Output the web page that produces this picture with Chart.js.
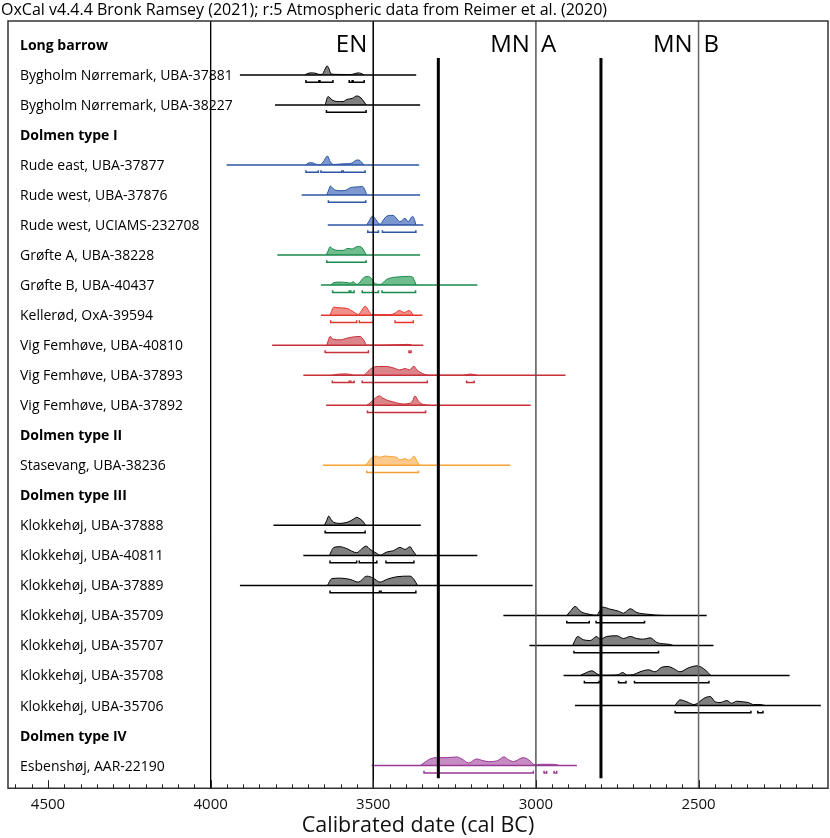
<!DOCTYPE html>
<html>
<head>
<meta charset="utf-8">
<script src="https://cdn.jsdelivr.net/npm/chart.js@4.4.0/dist/chart.umd.min.js"></script>
<style>
    html, body { margin: 0; padding: 0; background: #fff; }
    #wrap { width: 830px; height: 838px; }
</style>
</head>
<body>
<div id="wrap"><canvas id="chart"></canvas></div>
<script>
// rows, top to bottom
const rowLabels = [
    'Long barrow',
    'Bygholm Nørremark, UBA-37881',
    'Bygholm Nørremark, UBA-38227',
    'Dolmen type I',
    'Rude east, UBA-37877',
    'Rude west, UBA-37876',
    'Rude west, UCIAMS-232708',
    'Grøfte A, UBA-38228',
    'Grøfte B, UBA-40437',
    'Kellerød, OxA-39594',
    'Vig Femhøve, UBA-40810',
    'Vig Femhøve, UBA-37893',
    'Vig Femhøve, UBA-37892',
    'Dolmen type II',
    'Stasevang, UBA-38236',
    'Dolmen type III',
    'Klokkehøj, UBA-37888',
    'Klokkehøj, UBA-40811',
    'Klokkehøj, UBA-37889',
    'Klokkehøj, UBA-35709',
    'Klokkehøj, UBA-35707',
    'Klokkehøj, UBA-35708',
    'Klokkehøj, UBA-35706',
    'Dolmen type IV',
    'Esbenshøj, AAR-22190'
];
const headerRows = [0, 3, 13, 15, 23];

// probability curves: [cal BC, relative density 0..10]
const d37881 = [[3710,0],[3701,1.5],[3688,2],[3676,1.5],[3667,0.5],[3657,0.5],[3648,6],[3642,9],[3636,6],[3630,1],[3614,0.5],[3571,0.3],[3559,1],[3547,2],[3538,1.5],[3528,0]];
const d38227 = [[3648,0],[3639,8.3],[3627,5],[3614,3.5],[3593,3.3],[3581,5.5],[3565,6.5],[3550,9],[3538,7],[3528,3],[3522,0]];
const d37877 = [[3707,0],[3700,2],[3688,2.3],[3679,1],[3664,0.3],[3654,3],[3641,9],[3632,3],[3621,0.5],[3600,1],[3587,1.2],[3565,2],[3555,4.5],[3548,5],[3541,4.5],[3534,2],[3528,0]];
const d37876 = [[3643,0],[3636,6],[3632,9],[3625,7],[3614,4.7],[3596,4.3],[3583,5],[3571,7.3],[3556,8],[3541,8.3],[3533,8.5],[3527,6],[3520,0]];
const d232708 = [[3520,0],[3513,4],[3502,9],[3491,5],[3479,0.7],[3467,6],[3454,9.5],[3439,9.7],[3427,6],[3418,3.3],[3402,6.7],[3393,3.3],[3379,8.7],[3372,4],[3369,0]];
const d38228 = [[3645,0],[3639,4],[3633,8.3],[3624,6],[3608,4.7],[3593,4.7],[3578,6.7],[3565,6],[3556,7.5],[3546,8.7],[3535,7.5],[3528,4],[3522,0]];
const d40437 = [[3631,0],[3621,2.5],[3602,3],[3581,2.5],[3571,2],[3562,3.3],[3551,0.7],[3541,3],[3530,7.3],[3515,8.7],[3504,6],[3494,1.3],[3479,0.7],[3459,5.7],[3438,7.7],[3418,8.3],[3392,8.7],[3379,8],[3373,4],[3368,0]];
const d39594 = [[3633,0],[3621,8],[3602,7.3],[3580,6.7],[3561,3.3],[3546,0.7],[3535,5],[3525,9],[3512,3.3],[3505,0.7],[3448,0.5],[3433,2],[3420,4.7],[3405,2.7],[3389,4.7],[3377,0]];
const d40810 = [[3643,0],[3639,4],[3633,8.7],[3624,6],[3602,5.3],[3581,7],[3561,8.3],[3541,8.7],[3535,7.5],[3528,4.3],[3520,0],[3418,0.5],[3393,0.8],[3381,0]];
const d37893 = [[3628,0],[3608,1],[3587,1.3],[3571,0.8],[3559,0],[3530,0],[3516,4],[3500,8],[3484,8.7],[3459,8.7],[3438,7.3],[3418,5.3],[3402,6.7],[3389,5.3],[3375,9],[3366,5.3],[3356,3],[3341,0.7],[3325,0],[3224,0],[3202,1.2],[3181,0]];
const d37892 = [[3520,0],[3507,3],[3498,6],[3481,9.3],[3470,7],[3459,5.3],[3439,3.3],[3407,1.3],[3387,2],[3378,5],[3372,9.3],[3361,4],[3346,0.7],[3325,0]];
const d38236 = [[3525,0],[3516,3],[3510,6],[3491,9.3],[3482,8],[3464,9.3],[3448,8.7],[3428,8],[3418,5.3],[3402,6.7],[3393,5.3],[3384,6],[3375,9.3],[3367,5],[3358,0]];
const d37888 = [[3650,0],[3643,5],[3637,9.3],[3630,6],[3623,3.3],[3602,2],[3578,3.3],[3562,6],[3551,8],[3541,6.5],[3530,3.3],[3524,0]];
const d40811 = [[3635,0],[3621,8],[3602,8.7],[3581,6.7],[3551,2.7],[3535,6.7],[3522,9.3],[3510,6],[3489,2],[3479,0.3],[3459,3.3],[3438,4.7],[3418,8],[3402,6],[3387,8.7],[3379,5],[3368,0]];
const d37889 = [[3641,0],[3628,6.7],[3602,7.3],[3571,6],[3546,3.3],[3520,9.3],[3500,7.3],[3479,3.3],[3459,6],[3428,8.7],[3387,9.3],[3375,6],[3364,0]];
const d35709 = [[2905,0],[2892,5],[2880,9],[2861,3.7],[2833,1],[2813,0.3],[2803,5],[2794,8.3],[2772,6.3],[2746,4.3],[2731,2.3],[2710,6.7],[2690,3],[2659,1.3],[2628,0.3],[2603,0]];
const d35707 = [[2887,0],[2880,5],[2872,9],[2854,5.7],[2833,5],[2813,9],[2803,6.3],[2782,9],[2751,9.7],[2731,7],[2710,9],[2690,7],[2669,6.3],[2649,7.7],[2628,3],[2608,1.7],[2587,1],[2578,0]];
const d35708 = [[2864,0],[2849,2.3],[2828,4.7],[2815,2.3],[2803,0.3],[2757,0.5],[2746,1],[2733,3],[2720,0.5],[2700,1],[2680,3.7],[2654,5.7],[2634,3.7],[2613,8.3],[2593,9],[2577,7],[2557,3.7],[2531,7.7],[2505,9.7],[2485,7],[2469,2.3],[2462,0]];
const d35706 = [[2572,0],[2566,3],[2557,5.7],[2536,3.7],[2514,1],[2500,3],[2485,7],[2464,9],[2449,3.7],[2434,3],[2413,5],[2398,2.3],[2383,4.3],[2362,3.7],[2347,3],[2331,1],[2311,1],[2295,0]];
const d22190 = [[3356,0],[3341,3.5],[3325,6.7],[3305,8],[3274,8],[3243,8.7],[3228,6.7],[3207,2.7],[3182,6.7],[3166,5.3],[3146,4],[3120,4.7],[3098,8.7],[3085,6],[3069,4],[3039,8],[3023,6],[3002,0.7],[2987,1.3],[2946,1.3],[2926,0]];

// 95.4% ranges (cal BC)
const b37881 = [[3707,3667],[3664,3624],[3574,3565],[3562,3528]];
const b38227 = [[3644,3522]];
const b37877 = [[3707,3669],[3661,3597],[3592,3525]];
const b37876 = [[3638,3523]];
const b232708 = [[3517,3484],[3472,3369]];
const b38228 = [[3643,3522]];
const b40437 = [[3625,3574],[3569,3559],[3534,3484],[3473,3370]];
const b39594 = [[3631,3551],[3543,3500],[3433,3377]];
const b40810 = [[3648,3515],[3390,3384]];
const b37893 = [[3626,3574],[3569,3559],[3534,3334],[3213,3190]];
const b37892 = [[3518,3339]];
const b38236 = [[3520,3361]];
const b37888 = [[3648,3525]];
const b40811 = [[3633,3551],[3543,3489],[3461,3375]];
const b37889 = [[3633,3481],[3476,3369]];
const b35709 = [[2905,2836],[2815,2666]];
const b35707 = [[2883,2623]];
const b35708 = [[2851,2806],[2746,2723],[2697,2468]];
const b35706 = [[2572,2339],[2318,2302]];
const b22190 = [[3344,3008],[2975,2967],[2944,2936]];

const densities = [null, d37881, d38227, null, d37877, d37876, d232708, d38228, d40437, d39594, d40810, d37893, d37892, null, d38236, null, d37888, d40811, d37889, d35709, d35707, d35708, d35706, null, d22190];
const brackets = [null, b37881, b38227, null, b37877, b37876, b232708, b38228, b40437, b39594, b40810, b37893, b37892, null, b38236, null, b37888, b40811, b37889, b35709, b35707, b35708, b35706, null, b22190];
// full extent of each plotted line (cal BC)
const rangeFrom = [null, 3910, 3802, null, 3951, 3720, 3640, 3795, 3661, 3661, 3811, 3715, 3645, null, 3655, null, 3807, 3715, 3910, 3100, 3020, 2915, 2880, null, 3505];
const rangeTo   = [null, 3368, 3356, null, 3359, 3356, 3346, 3356, 3180, 3349, 3346, 2909, 3016, null, 3079, null, 3354, 3180, 3010, 2475, 2454, 2220, 2124, null, 2874];

const groups = [null, 'k', 'k', null, 'blue', 'blue', 'blue', 'green', 'green', 'red', 'wine', 'wine', 'wine', null, 'orange', null, 'k', 'k', 'k', 'k', 'k', 'k', 'k', null, 'purple'];
const lineColor = {k: '#000000', blue: '#2d55a5', green: '#198a4c', red: '#e6372e', wine: '#c73038', orange: '#f6a232', purple: '#993a95'};
const fillColor = {k: '#808080', blue: '#7d98cf', green: '#6fbd8c', red: '#f19089', wine: '#db8489', orange: '#fbca8c', purple: '#c68bc3'};

const gridYears = [4000, 3500, 3000, 2500];
const gridColors = ['#000', '#000', '#555', '#666'];
const boundaryYears = [3300, 2800];
const periodText = ['EN', 'MN', 'A', 'MN', 'B'];
const periodYear = [3500, 3000, 3000, 2500, 2500];
const periodSide = ['right', 'right', 'left', 'right', 'left'];
const tickYears = [4500, 4000, 3500, 3000, 2500];

const title = 'OxCal v4.4.4 Bronk Ramsey (2021); r:5 Atmospheric data from Reimer et al. (2020)';
const FONT = '"Open Sans", "Noto Sans", sans-serif';
const DENS = 1 / 30.1;      // density unit -> row units
const BR_OFF = 0.243;       // bracket offset below baseline
const BR_TICK = 0.07;
const Y_MIN = -0.794, Y_MAX = 24.754;

const datasets = [];

gridYears.forEach((v, i) => {
    datasets.push({data: [{x: v, y: Y_MIN}, {x: v, y: Y_MAX}], borderColor: gridColors[i], borderWidth: i < 2 ? 1 : 1.5, order: 0});
});
boundaryYears.forEach(v => {
    datasets.push({data: [{x: v, y: 0.435}, {x: v, y: 24.42}], borderColor: '#000', borderWidth: 3, order: 0});
});

densities.forEach((pts, row) => {
    if (!pts) return;
    const g = groups[row];
    datasets.push({
        data: pts.map(p => ({x: p[0], y: row - p[1] * DENS})),
        borderColor: lineColor[g],
        backgroundColor: fillColor[g],
        borderWidth: 1,
        fill: {value: row},
        cubicInterpolationMode: 'monotone',
        order: 2
    });
    datasets.push({
        data: [{x: rangeFrom[row], y: row}, {x: rangeTo[row], y: row}],
        borderColor: lineColor[g],
        borderWidth: 1.5,
        order: 1
    });
    const bpts = [];
    brackets[row].forEach(b => {
        const yb = row + BR_OFF;
        bpts.push({x: b[0], y: yb - BR_TICK}, {x: b[0], y: yb}, {x: b[1], y: yb}, {x: b[1], y: yb - BR_TICK}, {x: b[1], y: null});
    });
    datasets.push({data: bpts, borderColor: lineColor[g], borderWidth: 1.5, spanGaps: false, order: 1});
});

const overlay = {
    id: 'overlay',
    afterDraw(chart) {
        const {ctx, chartArea: a, scales: {x, y}} = chart;
        ctx.save();
        ctx.strokeStyle = '#333';
        ctx.lineWidth = 1.5;
        ctx.strokeRect(a.left, a.top, a.right - a.left, a.bottom - a.top);

        ctx.lineWidth = 1;
        ctx.strokeStyle = '#222';
        for (let v = 4600; v >= 2150; v -= 50) {
            const px = Math.round(x.getPixelForValue(v)) + 0.5;
            const len = v % 500 === 0 ? 8 : 4;
            ctx.beginPath();
            ctx.moveTo(px, a.bottom);
            ctx.lineTo(px, a.bottom - len);
            ctx.stroke();
        }

        ctx.fillStyle = '#000';
        ctx.textBaseline = 'middle';
        ctx.textAlign = 'left';
        rowLabels.forEach((t, i) => {
            ctx.font = (headerRows.includes(i) ? 'bold ' : '') + '14px ' + FONT;
            ctx.fillText(t, a.left + 12, y.getPixelForValue(i) + 1);
        });

        ctx.font = '24px ' + FONT;
        ctx.textBaseline = 'alphabetic';
        periodText.forEach((t, i) => {
            const px = x.getPixelForValue(periodYear[i]);
            ctx.textAlign = periodSide[i];
            ctx.fillText(t, periodSide[i] === 'right' ? px - 6 : px + 5, 52);
        });

        ctx.font = '16px ' + FONT;
        ctx.textAlign = 'left';
        ctx.textBaseline = 'middle';
        ctx.fillText(title, 1, 10);
        ctx.restore();
    }
};

new Chart(document.getElementById('chart'), {
    type: 'line',
    data: {datasets: datasets},
    options: {
        responsive: true,
        maintainAspectRatio: false,
        devicePixelRatio: 1,
        animation: false,
        layout: {padding: {left: 8, right: 2, top: 21, bottom: 0}},
        elements: {point: {radius: 0}, line: {tension: 0}},
        plugins: {legend: {display: false}, tooltip: {enabled: false}},
        scales: {
            x: {
                type: 'linear',
                reverse: true,
                min: 2102,
                max: 4623,
                afterBuildTicks: s => { s.ticks = tickYears.map(v => ({value: v})); },
                grid: {display: false, drawTicks: false, tickLength: 0},
                border: {display: false},
                ticks: {color: '#111', font: {size: 15, family: FONT}, padding: 7, callback: v => String(v), maxRotation: 0, autoSkip: false},
                title: {display: true, text: 'Calibrated date (cal BC)', color: '#111', font: {size: 21.5, family: FONT, lineHeight: 0.5}, padding: {top: 0, bottom: 7}}
            },
            y: {type: 'linear', display: false, reverse: true, min: Y_MIN, max: Y_MAX}
        }
    },
    plugins: [overlay]
});
</script>
</body>
</html>
